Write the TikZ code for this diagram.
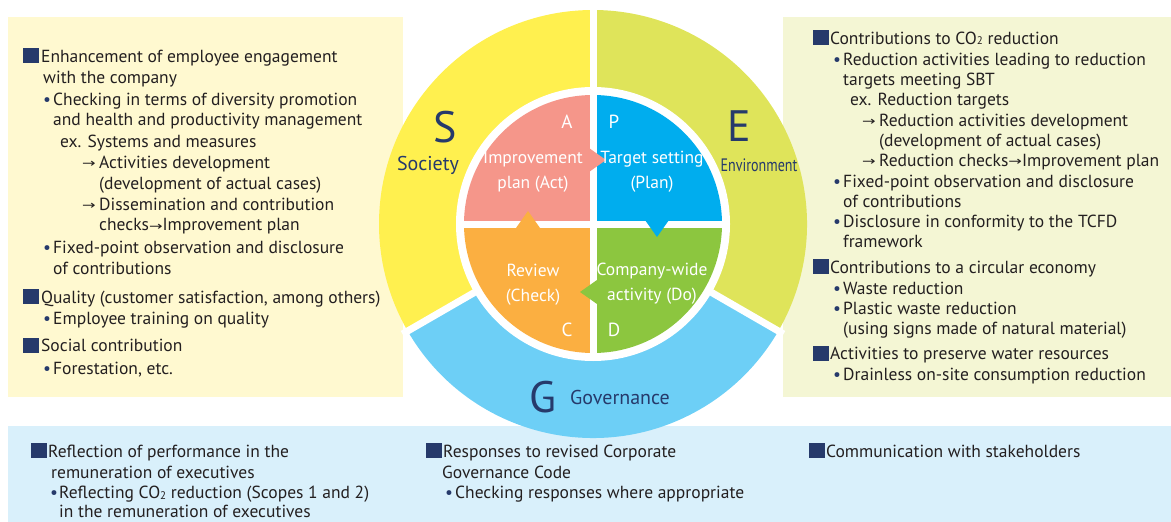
\documentclass[tikz,border=0pt]{standalone}
\usepackage{fontspec}
\setmainfont{PT Sans}
\newfontfamily\symfont{DejaVu Sans}
\newfontfamily\condfont[FakeStretch=0.78]{PT Sans}
\definecolor{navy}{HTML}{263A6B}
\definecolor{ink}{HTML}{231F20}
\definecolor{boxS}{HTML}{FFF9D0}
\definecolor{boxE}{HTML}{F4F6D4}
\definecolor{boxG}{HTML}{D9F0FB}
\definecolor{ringS}{HTML}{FFF04F}
\definecolor{ringE}{HTML}{DFE45A}
\definecolor{ringG}{HTML}{6DCFF6}
\definecolor{qA}{HTML}{F5968A}
\definecolor{qP}{HTML}{00ADEE}
\definecolor{qD}{HTML}{8CC63F}
\definecolor{qC}{HTML}{FBAF41}
\newcommand{\bodyfont}{\fontsize{17.5}{21}\selectfont}
\newcommand{\arr}{{\symfont\fontsize{12}{12}\selectfont\raisebox{0.5pt}{\scalebox{1.35}[1]{→}}}}
\newcommand{\bul}{{\color{navy}•}}
\newcommand{\cotwo}{CO{\fontsize{11}{11}\selectfont\raisebox{-0.5pt}{2}}}
\tikzset{
  txt/.style={anchor=base west, inner sep=0pt, font=\bodyfont, text=ink},
  sq/.style={fill=navy},
  gap/.style={draw=white, line width=7pt},
  big/.style={font=\fontsize{44}{44}\selectfont, text=navy, inner sep=0pt},
  lab/.style={font=\fontsize{20}{20}\selectfont, text=navy, inner sep=0pt},
  pdca/.style={font=\fontsize{17.5}{25}\selectfont, text=white, align=center, inner sep=0pt},
  letter/.style={font=\fontsize{19}{19}\selectfont, text=white, inner sep=0pt},
}
\newcommand{\sqb}[2]{\fill[sq] (#1,#2-14) rectangle (#1+15.5,#2+1);}
\begin{document}
\begin{tikzpicture}[x=1pt,y=-1pt]
\useasboundingbox (0,0) rectangle (1171,522);
% background boxes
\fill[boxS] (8,17) rectangle (403,397);
\fill[boxE] (783,17) rectangle (1171,397);
\fill[boxG] (8,426) rectangle (1171,522);
% circle
\begin{scope}[shift={(593,224)}, x=1pt, y=1pt]
  \fill[ringS] (0,0) -- (90:214) arc[start angle=90, end angle=210, radius=214] -- cycle;
  \fill[ringE] (0,0) -- (-30:214) arc[start angle=-30, end angle=90, radius=214] -- cycle;
  \fill[ringG] (0,0) -- (210:214) arc[start angle=210, end angle=330, radius=214] -- cycle;
  \draw[gap] (0,0) -- (90:220);
  \draw[gap] (0,0) -- (210:220);
  \draw[gap] (0,0) -- (330:220);
  \fill[white] (0,0) circle (137);
  \fill[qA] (0,0) -- (90:129) arc[start angle=90, end angle=180, radius=129] -- cycle;
  \fill[qP] (0,0) -- (0:129) arc[start angle=0, end angle=90, radius=129] -- cycle;
  \fill[qD] (0,0) -- (270:129) arc[start angle=270, end angle=360, radius=129] -- cycle;
  \fill[qC] (0,0) -- (180:129) arc[start angle=180, end angle=270, radius=129] -- cycle;
  \draw[gap] (-135,0) -- (135,0);
  \draw[gap] (0,-135) -- (0,135);
  \fill[qA] (-4,76) -- (13,64) -- (-4,52) -- cycle;
  \fill[qP] (52,4) -- (64,-13) -- (76,4) -- cycle;
  \fill[qD] (4,-56) -- (-13,-68) -- (4,-80) -- cycle;
  \fill[qC] (-77,-4) -- (-65,13) -- (-53,-4) -- cycle;
\end{scope}
% circle labels
\node[letter] (la) at (567,122) {A};
\node[letter] (lp) at (614,122) {P};
\node[letter] (lc) at (567,330) {C};
\node[letter] (ld) at (614,330) {D};
\node[pdca] (act) at (533,172) {Improvement\\plan (Act)};
\node[pdca] (plan) at (652,172) {Target setting\\(Plan)};
\node[pdca] (check) at (533,284.5) {Review\\(Check)};
\node[pdca] (do) at (652,284) {Company-wide\\activity (Do)};
\node[big] (S) at (445,127) {S};
\node[lab] (soc) at (428,165) {Society};
\node[big] (E) at (739,126) {E};
\node[lab, font=\condfont\fontsize{18}{18}\selectfont] (env) at (759,165) {Environment};
\node[big] (G) at (543,397) {G};
\node[lab] (gov) at (620,397) {Governance};
% left box text
\sqb{23}{62}
\node[txt] (l1) at (41,62) {Enhancement of employee engagement};
\node[txt] (l2) at (43,83) {with the company};
\node[txt] (l3) at (43,105.5) {\makebox[10pt][l]{\bul}Checking in terms of diversity promotion};
\node[txt] (l4) at (53,125.5) {and health and productivity management};
\node[txt] (l5) at (60,147) {ex. Systems and measures};
\node[txt] (l6) at (82,168) {\makebox[17pt][l]{\arr}Activities development};
\node[txt] (l7) at (99,189) {(development of actual cases)};
\node[txt] (l8) at (82,210) {\makebox[17pt][l]{\arr}Dissemination and contribution};
\node[txt] (l9) at (99,230.5) {checks\arr Improvement plan};
\node[txt] (l10) at (43,253) {\makebox[10pt][l]{\bul}Fixed-point observation and disclosure};
\node[txt] (l11) at (53,274) {of contributions};
\sqb{23}{303}
\node[txt] (l12) at (41,303) {Quality (customer satisfaction, among others)};
\node[txt] (l13) at (43,324) {\makebox[10pt][l]{\bul}Employee training on quality};
\sqb{23}{351.5}
\node[txt] (l14) at (41,351.5) {Social contribution};
\node[txt] (l15) at (43,374) {\makebox[10pt][l]{\bul}Forestation, etc.};
% right box text
\sqb{813}{44}
\node[txt] (r1) at (830,44) {Contributions to \cotwo{} reduction};
\node[txt] (r2) at (833,65) {\makebox[10pt][l]{\bul}Reduction activities leading to reduction};
\node[txt] (r3) at (843,85.5) {targets meeting SBT};
\node[txt] (r4) at (850,105.5) {ex. Reduction targets};
\node[txt] (r5) at (862,126) {\makebox[17pt][l]{\arr}Reduction activities development};
\node[txt] (r6) at (879,146) {(development of actual cases)};
\node[txt] (r7) at (862,166) {\makebox[17pt][l]{\arr}Reduction checks\arr Improvement plan};
\node[txt] (r8) at (833,187) {\makebox[10pt][l]{\bul}Fixed-point observation and disclosure};
\node[txt] (r9) at (843,207) {of contributions};
\node[txt] (r10) at (833,227) {\makebox[10pt][l]{\bul}Disclosure in conformity to the TCFD};
\node[txt] (r11) at (843,247) {framework};
\sqb{813}{273}
\node[txt] (r12) at (830,273) {Contributions to a circular economy};
\node[txt] (r13) at (833,294) {\makebox[10pt][l]{\bul}Waste reduction};
\node[txt] (r14) at (833,314) {\makebox[10pt][l]{\bul}Plastic waste reduction};
\node[txt] (r15) at (843,334) {(using signs made of natural material)};
\sqb{813}{359.5}
\node[txt] (r16) at (830,359.5) {Activities to preserve water resources};
\node[txt] (r17) at (833,380.5) {\makebox[10pt][l]{\bul}Drainless on-site consumption reduction};
% bottom box text
\sqb{31}{457}
\node[txt] (b1) at (48,457) {Reflection of performance in the};
\node[txt] (b2) at (51,478) {remuneration of executives};
\node[txt] (b3) at (50,498.5) {\makebox[9pt][l]{\bul}Reflecting \cotwo{} reduction (Scopes 1 and 2)};
\node[txt] (b4) at (59,517.5) {in the remuneration of executives};
\sqb{426}{457}
\node[txt] (m1) at (443,457) {Responses to revised Corporate};
\node[txt] (m2) at (442,478) {Governance Code};
\node[txt] (m3) at (445,498.5) {\makebox[10pt][l]{\bul}Checking responses where appropriate};
\sqb{809}{457}
\node[txt] (c1) at (826,457) {Communication with stakeholders};
\end{tikzpicture}
\end{document}
